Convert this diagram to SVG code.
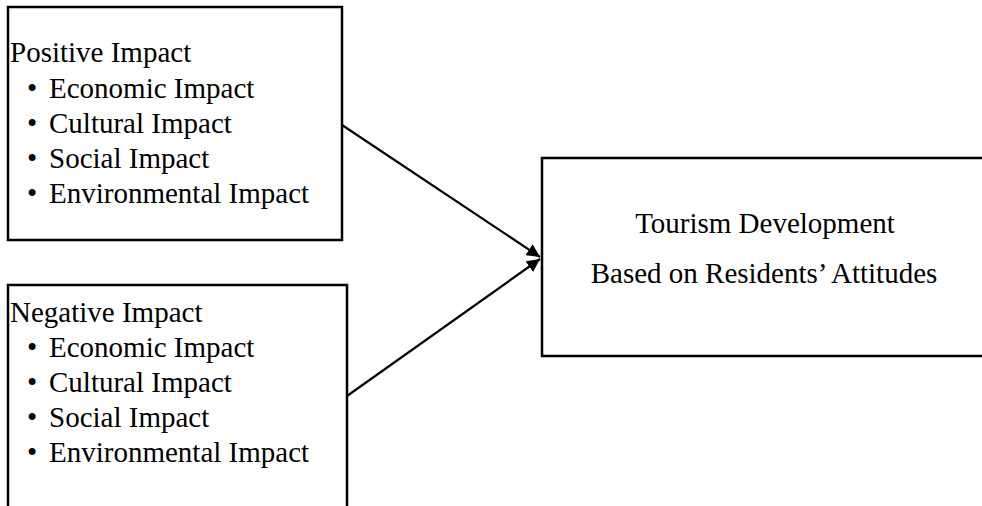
<svg xmlns="http://www.w3.org/2000/svg" width="982" height="506" viewBox="0 0 982 506">
<style>
.box{fill:#fff;stroke:#000;stroke-width:2.5}
.t{font-family:"Liberation Serif","Times New Roman",serif;font-size:29px;fill:#000}
.c{text-anchor:middle}
.edge{stroke:#000;stroke-width:2.2;fill:none}
</style>
<defs>
<marker id="ah" viewBox="0 0 10 10" refX="10" refY="5" markerWidth="6" markerHeight="6" markerUnits="strokeWidth" orient="auto">
<path d="M0,0 L10,5 L0,10 Z" fill="#000"/>
</marker>
</defs>
<rect width="982" height="506" fill="#fff"/>
<g id="positive">
<rect class="box" x="8" y="7" width="334" height="233"/>
<text class="t" x="10" y="62">Positive Impact</text>
<text class="t" y="98"><tspan x="27">•</tspan><tspan x="49">Economic Impact</tspan></text>
<text class="t" y="133"><tspan x="27">•</tspan><tspan x="49">Cultural Impact</tspan></text>
<text class="t" y="168"><tspan x="27">•</tspan><tspan x="49">Social Impact</tspan></text>
<text class="t" y="203"><tspan x="27">•</tspan><tspan x="49">Environmental Impact</tspan></text>
</g>
<g id="negative">
<rect class="box" x="8" y="285" width="339" height="240"/>
<text class="t" x="10" y="322">Negative Impact</text>
<text class="t" y="357"><tspan x="27">•</tspan><tspan x="49">Economic Impact</tspan></text>
<text class="t" y="392"><tspan x="27">•</tspan><tspan x="49">Cultural Impact</tspan></text>
<text class="t" y="427"><tspan x="27">•</tspan><tspan x="49">Social Impact</tspan></text>
<text class="t" y="462"><tspan x="27">•</tspan><tspan x="49">Environmental Impact</tspan></text>
</g>
<g id="tourism">
<rect class="box" x="542" y="158" width="460" height="198"/>
<text class="t c" x="765" y="233">Tourism Development</text>
<text class="t c" x="764" y="283">Based on Residents’ Attitudes</text>
</g>
<g id="connectors">
<line class="edge" x1="342" y1="125" x2="540" y2="257" marker-end="url(#ah)"/>
<line class="edge" x1="347" y1="396" x2="540" y2="259" marker-end="url(#ah)"/>
</g>
</svg>
